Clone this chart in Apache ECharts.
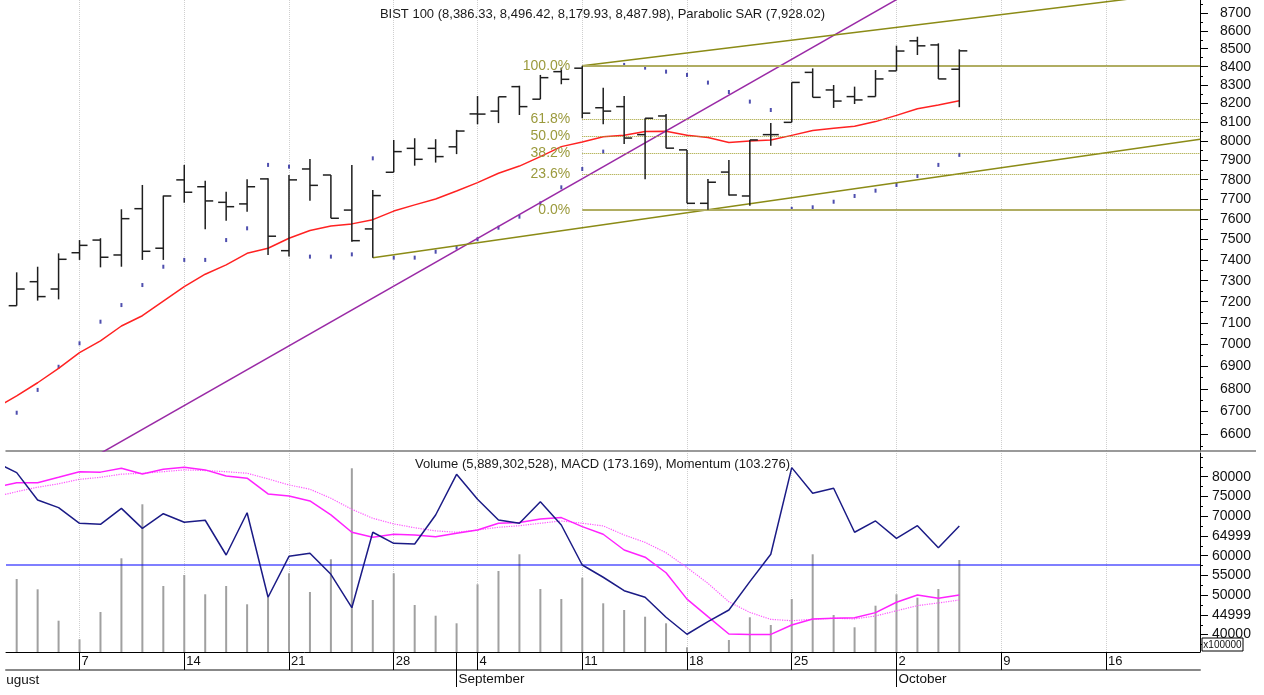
<!DOCTYPE html>
<html>
<head>
<meta charset="utf-8">
<title>BIST 100</title>
<script src="https://cdn.jsdelivr.net/npm/echarts@6/dist/echarts.min.js"></script>
<style>
  html, body { margin: 0; padding: 0; background: #fff; }
  #main { width: 1264px; height: 695px; }
</style>
</head>
<body>
<div id="main"></div>
<script>
// x = trading day index, 0 = 2 Aug 2023 (30 Aug holiday skipped), -1 = 1 Aug
var weekTicks = [3, 8, 13, 18, 22, 27, 32, 37, 42, 47, 52];
var weekLabels = ['7', '14', '21', '28', '4', '11', '18', '25', '2', '9', '16'];
var monthTicks = [21, 42];
var monthLabels = ['September', 'October'];

// BIST 100 daily bars
var open = [7181, 7295, 7260, 7435, 7497, 7424, 7653, 7457, 7799, 7764, 7685, 7677, 7804, 7445, 7855, 7824,
  7646, 7552, 7838, 7962, 7962, 7970, 8144, 8159, 8291, 8223, 8373, 8392, 8177, 8183, 8034, 8133, 7954,
  7680, 7839, 7717, 8034, 8099, 8369, 8273, 8237, 8237, 8377, 8544, 8521, 8386.33];
var high = [7340, 7367, 7432, 7497, 7506, 7650, 7773, 7719, 7876, 7795, 7738, 7802, 7807, 7824, 7907, 7824,
  7876, 7748, 8006, 8015, 8010, 8059, 8240, 8236, 8296, 8355, 8395, 8405, 8285, 8240, 8121, 8144, 7954,
  7804, 7902, 8006, 8096, 8314, 8391, 8300, 8291, 8382, 8517, 8567, 8530, 8496.42];
var low = [7181, 7205, 7211, 7400, 7364, 7367, 7400, 7400, 7683, 7550, 7593, 7638, 7424, 7416, 7693, 7605,
  7489, 7411, 7838, 7872, 7888, 7932, 8089, 8095, 8138, 8223, 8304, 8121, 8089, 7985, 7802, 7963, 7680,
  7647, 7719, 7668, 7975, 8099, 8233, 8176, 8197, 8237, 8377, 8465, 8333, 8179.93];
var close = [7260, 7224, 7403, 7471, 7413, 7603, 7442, 7717, 7736, 7692, 7663, 7764, 7516, 7799, 7771, 7605,
  7494, 7719, 7945, 7905, 7919, 8053, 8143, 8236, 8183, 8340, 8331, 8148, 8159, 8016, 8121, 7963, 7680,
  7787, 7722, 8006, 8034, 8314, 8233, 8213, 8219, 8333, 8487, 8516, 8333, 8487.98];
var sar = [6694, 6795, 6899, 7006, 7106, 7184, 7279, 7367, 7400, 7400, 7497, 7555, 7876, 7867, 7416, 7416,
  7427, 7910, 7411, 7411, 7440, 7460, 7501, 7558, 7613, 7680, 7761, 7855, 7945, 8410, 8395, 8373, 8355,
  8313, 8262, 8210, 8165, 7652, 7660, 7688, 7717, 7744, 7773, 7819, 7876, 7928.02];
// moving average, starts one day earlier (1 Aug)
var avg = [6715, 6768, 6827, 6892, 6963, 7017, 7086, 7134, 7203, 7271, 7331, 7376, 7432, 7457, 7506, 7544,
  7567, 7577, 7598, 7641, 7672, 7702, 7742, 7785, 7833, 7870, 7919, 7971, 7995, 8023, 8031, 8050, 8052,
  8031, 8019, 7993, 8001, 8006, 8030, 8056, 8068, 8078, 8103, 8136, 8172, 8192, 8215];

// volume in units of 100000
var lastVolume = 5889302528;
var volume = [54091, 51482, 43528, 38817, 45732, 59334, 73012, 52318, 55104, 50215, 52318, 47682, 49456,
  55535, 50798, 59081, 82131, 48772, 55535, 47505, 44795, 42870, 52748, 56117, 60347, 51558, 49025, 54420,
  47936, 46239, 44541, 42870, 36791, 35500, 38640, 44390, 42439, 49025, 60347, 44972, 41857, 47328, 50215,
  49354, 51558, lastVolume / 100000];
// MACD, signal and momentum, starting 1 Aug
var macd = [652, 672, 672, 696, 721, 719, 736, 711, 732, 741, 729, 702, 692, 622, 613, 591, 529, 452, 430,
  443, 440, 432, 447, 462, 492, 495, 511, 517, 477, 443, 373, 341, 272, 155, 77, 0, -2, -2, 40, 67, 70, 72,
  95, 141, 173, 159, 173.169];
var signal = [610, 632, 652, 667, 687, 696, 710, 714, 721, 729, 726, 721, 714, 689, 662, 643, 603, 554, 514,
  489, 472, 458, 452, 462, 474, 481, 492, 502, 492, 480, 440, 407, 361, 295, 225, 143, 96, 65, 59, 65, 70,
  67, 80, 103, 126, 138, 151];
var momentum = [108.63, 107.76, 105.46, 104.82, 103.50, 103.42, 104.76, 103.08, 104.31, 103.59, 103.76,
  100.84, 104.39, 97.29, 100.73, 100.98, 99.22, 96.41, 102.75, 101.82, 101.76, 104.20, 107.62, 105.52,
  103.78, 103.50, 105.32, 103.36, 100.00, 98.97, 97.84, 97.29, 95.61, 94.18, 95.24, 96.22, 98.60, 100.90,
  108.18, 106.03, 106.45, 102.75, 103.70, 102.24, 103.30, 101.45, 103.276];
var momentumBase = 100;

// drawn lines [x, value]
var channelTop = [[27, 8405], [56.5, 8832]];
var channelBottom = [[17, 7411], [56.5, 8010]];
var purpleTrend = [[0, 6317], [45, 8987]];
var fibValues = [8405, 8115, 8026, 7937, 7826, 7647];
var fibLabels = ['100.0%', '61.8%', '50.0%', '38.2%', '23.6%', '0.0%'];

// axis ticks
var priceTicks = [6600, 6700, 6800, 6900, 7000, 7100, 7200, 7300, 7400, 7500, 7600, 7700, 7800, 7900,
  8000, 8100, 8200, 8300, 8400, 8500, 8600, 8700];
var priceMinor = [6550, 6650, 6750, 6850, 6950, 7050, 7150, 7250, 7350, 7450, 7550, 7650, 7750, 7850,
  7950, 8050, 8150, 8250, 8350, 8450, 8550, 8650, 8750];
var volTicks = [40000, 45000, 50000, 55000, 60000, 65000, 70000, 75000, 80000];
var volLabels = ['40000', '44999', '50000', '55000', '60000', '64999', '70000', '75000', '80000'];
var volMinor = [37500, 42500, 47500, 52500, 57500, 62500, 67500, 72500, 77500, 82500, 85000];

var priceMin = 6528, priceMax = 8776;
var xMin = -0.51, xMax = 56.49;
var fibStart = 27, fibEnd = xMax;
var font = '"Liberation Sans", Arial, sans-serif';

function fmt(v, d) {
  return v.toLocaleString('en-US', { minimumFractionDigits: d, maximumFractionDigits: d });
}
var last = open.length - 1;
var topTitle = 'BIST 100 (' + fmt(open[last], 2) + ', ' + fmt(high[last], 2) + ', ' + fmt(low[last], 2) + ', ' +
  fmt(close[last], 2) + '), Parabolic SAR (' + fmt(sar[last], 2) + ')';
var bottomTitle = 'Volume (' + fmt(lastVolume, 0) + '), MACD (' + fmt(macd[macd.length - 1], 3) +
  '), Momentum (' + fmt(momentum[momentum.length - 1], 3) + ')';

function fromAug1(arr) {
  return arr.map(function (v, i) { return [i - 1, v]; });
}

function renderBar(params, api) {
  var x = api.value(0);
  var o = api.coord([x, api.value(1)]);
  var h = api.coord([x, api.value(2)]);
  var l = api.coord([x, api.value(3)]);
  var c = api.coord([x, api.value(4)]);
  var style = { stroke: '#1e1e1e', lineWidth: 1.5 };
  return {
    type: 'group',
    children: [
      { type: 'line', shape: { x1: h[0], y1: h[1], x2: l[0], y2: l[1] }, style: style },
      { type: 'line', shape: { x1: o[0] - 8, y1: o[1], x2: o[0], y2: o[1] }, style: style },
      { type: 'line', shape: { x1: c[0], y1: c[1], x2: c[0] + 8, y2: c[1] }, style: style }
    ]
  };
}

var fibLines = fibValues.map(function (v, k) {
  var solid = k === 0 || k === fibValues.length - 1;
  return [
    {
      coord: [fibStart, v], name: fibLabels[k],
      lineStyle: solid ? { color: '#b0ad62', width: 2, type: 'solid', opacity: 1 }
        : { color: '#a09e2a', width: 1, type: 'dotted', opacity: 1 }
    },
    { coord: [fibEnd, v] }
  ];
});

var gridLine = { show: true, lineStyle: { color: '#cfcfcf', type: 'dotted', width: 1 } };

var myChart = echarts.init(document.getElementById('main'));
myChart.setOption({
  animation: false,
  backgroundColor: '#fff',
  textStyle: { fontFamily: font },
  title: [
    { text: topTitle, left: 602.5, top: 8, textAlign: 'center', padding: 0,
      textStyle: { fontSize: 13, fontWeight: 'normal', color: '#1a1a1a', fontFamily: font } },
    { text: bottomTitle, left: 602.5, top: 458, textAlign: 'center', padding: 0,
      textStyle: { fontSize: 13, fontWeight: 'normal', color: '#1a1a1a', fontFamily: font } }
  ],
  grid: [
    { left: 6, right: 64, top: 0, height: 451 },
    { left: 6, right: 64, top: 453, height: 199 }
  ],
  xAxis: [
    { gridIndex: 0, type: 'value', min: xMin, max: xMax, position: 'bottom',
      axisLine: { show: true, onZero: false, lineStyle: { color: '#7a7a7a', width: 1.5 } },
      axisTick: { show: false, customValues: weekTicks },
      axisLabel: { show: false }, splitLine: gridLine },
    { gridIndex: 1, type: 'value', min: xMin, max: xMax, position: 'bottom',
      axisLine: { show: true, onZero: false, lineStyle: { color: '#000', width: 1 } },
      axisTick: { show: true, customValues: weekTicks, length: 18, lineStyle: { color: '#000' } },
      axisLabel: { show: true, customValues: weekTicks, align: 'left', margin: 3, padding: [0, 0, 0, 2],
        fontSize: 13, color: '#111', fontFamily: font,
        formatter: function (v) { var k = weekTicks.indexOf(v); return k < 0 ? '' : weekLabels[k]; } },
      splitLine: gridLine },
    { gridIndex: 1, type: 'value', min: xMin, max: xMax, position: 'bottom',
      axisLine: { show: false, onZero: false },
      axisTick: { show: true, customValues: monthTicks, length: 35, lineStyle: { color: '#000' } },
      axisLabel: { show: true, customValues: monthTicks, align: 'left', margin: 20, padding: [0, 0, 0, 2],
        fontSize: 13.5, color: '#111', fontFamily: font,
        formatter: function (v) { var k = monthTicks.indexOf(v); return k < 0 ? '' : monthLabels[k]; } },
      splitLine: { show: false } },
    { gridIndex: 1, type: 'value', min: xMin, max: xMax, position: 'bottom', offset: 18,
      axisLine: { show: true, onZero: false, lineStyle: { color: '#888', width: 2 } },
      axisTick: { show: false }, axisLabel: { show: false }, splitLine: { show: false } }
  ],
  yAxis: [
    { gridIndex: 0, type: 'log', logBase: 10, min: priceMin, max: priceMax, position: 'right',
      axisLine: { show: true, onZero: false, lineStyle: { color: '#000', width: 1 } },
      axisTick: { show: false }, axisLabel: { show: false }, splitLine: { show: false } },
    { gridIndex: 0, type: 'value', min: Math.log(priceMin), max: Math.log(priceMax), position: 'right',
      axisLine: { show: false, onZero: false },
      axisTick: { show: true, length: 8, customValues: priceTicks.map(Math.log), lineStyle: { color: '#000' } },
      axisLabel: { show: true, customValues: priceTicks.map(Math.log), margin: 20, fontSize: 14, color: '#111',
        fontFamily: font, formatter: function (v) { return String(Math.round(Math.exp(v))); } },
      splitLine: { show: false } },
    { gridIndex: 0, type: 'value', min: Math.log(priceMin), max: Math.log(priceMax), position: 'right',
      axisLine: { show: false, onZero: false },
      axisTick: { show: true, length: 3, customValues: priceMinor.map(Math.log), lineStyle: { color: '#000' } },
      axisLabel: { show: false }, splitLine: { show: false } },
    { gridIndex: 1, type: 'value', min: 35600, max: 86000, position: 'right',
      axisLine: { show: true, onZero: false, lineStyle: { color: '#000', width: 1 } },
      axisTick: { show: true, length: 8, customValues: volTicks, lineStyle: { color: '#000' } },
      axisLabel: { show: true, customValues: volTicks, margin: 12, fontSize: 14, color: '#111', fontFamily: font,
        formatter: function (v) { var k = volTicks.indexOf(v); return k < 0 ? String(v) : volLabels[k]; } },
      splitLine: { show: false } },
    { gridIndex: 1, type: 'value', min: 35600, max: 86000, position: 'right',
      axisLine: { show: false, onZero: false },
      axisTick: { show: true, length: 3, customValues: volMinor, lineStyle: { color: '#000' } },
      axisLabel: { show: false }, splitLine: { show: false } },
    { gridIndex: 1, type: 'value', min: -80, max: 804, show: false, axisLine: { onZero: false } },
    { gridIndex: 1, type: 'value', min: 92.69, max: 109.41, show: false, axisLine: { onZero: false } }
  ],
  series: [
    {
      name: 'Volume', type: 'bar', xAxisIndex: 1, yAxisIndex: 3, barWidth: 2,
      itemStyle: { color: '#a0a0a0' },
      data: volume.map(function (v, i) { return [i, v]; })
    },
    {
      name: 'Momentum base', type: 'line', xAxisIndex: 1, yAxisIndex: 6, showSymbol: false,
      itemStyle: { color: '#0000ff' },
      lineStyle: { color: '#0000ff', width: 1.2 },
      data: [[xMin, momentumBase], [xMax, momentumBase]]
    },
    {
      name: 'Signal', type: 'line', xAxisIndex: 1, yAxisIndex: 5, showSymbol: false,
      lineStyle: { color: '#ff55ff', width: 1.2, type: 'dotted' },
      data: fromAug1(signal)
    },
    {
      name: 'MACD', type: 'line', xAxisIndex: 1, yAxisIndex: 5, showSymbol: false,
      lineStyle: { color: '#ff22ff', width: 1.5 },
      data: fromAug1(macd)
    },
    {
      name: 'Momentum', type: 'line', xAxisIndex: 1, yAxisIndex: 6, showSymbol: false,
      itemStyle: { color: '#1b1b86' },
      lineStyle: { color: '#1b1b86', width: 1.5 },
      data: fromAug1(momentum)
    },
    {
      name: 'Average', type: 'line', xAxisIndex: 0, yAxisIndex: 0, showSymbol: false,
      lineStyle: { color: '#f22', width: 1.5 },
      data: fromAug1(avg)
    },
    {
      name: 'Purple trend', type: 'line', xAxisIndex: 0, yAxisIndex: 0, showSymbol: false,
      lineStyle: { color: '#9a2aa6', width: 1.5 }, data: purpleTrend
    },
    {
      name: 'Channel top', type: 'line', xAxisIndex: 0, yAxisIndex: 0, showSymbol: false,
      lineStyle: { color: '#8b8b16', width: 1.5 }, data: channelTop
    },
    {
      name: 'Channel bottom', type: 'line', xAxisIndex: 0, yAxisIndex: 0, showSymbol: false,
      lineStyle: { color: '#8b8b16', width: 1.5 }, data: channelBottom
    },
    {
      name: 'Fibonacci', type: 'line', xAxisIndex: 0, yAxisIndex: 0, showSymbol: false,
      itemStyle: { color: '#b0ad62' },
      lineStyle: { width: 0 },
      data: [[fibStart, fibValues[0]], [fibStart + 6, fibValues[fibValues.length - 1]]],
      markLine: {
        silent: true, symbol: ['none', 'none'],
        label: { show: true, position: 'start', formatter: '{b}', distance: 12, color: '#9b9a3d',
          fontSize: 14, fontFamily: font },
        data: fibLines
      }
    },
    {
      name: 'Parabolic SAR', type: 'scatter', xAxisIndex: 0, yAxisIndex: 0,
      symbol: 'rect', symbolSize: [2, 4], itemStyle: { color: '#22229a' },
      data: sar.map(function (v, i) { return [i, v]; })
    },
    {
      name: 'BIST 100', type: 'custom', xAxisIndex: 0, yAxisIndex: 0, renderItem: renderBar,
      encode: { x: 0, y: [1, 2, 3, 4] }, z: 5,
      data: open.map(function (o, i) { return [i, o, high[i], low[i], close[i]]; })
    }
  ],
  graphic: [
    { type: 'line', z: 100, shape: { x1: 1200, y1: 451, x2: 1256, y2: 451 },
      style: { stroke: '#7a7a7a', lineWidth: 1.5 } },
    { type: 'text', z: 100, x: -2.7, y: 680,
      style: { text: 'August', fontSize: 13.5, fontFamily: font, fill: '#111', textVerticalAlign: 'middle' } },
    { type: 'rect', z: 101, shape: { x: 0, y: 672, width: 6, height: 22 }, style: { fill: '#fff' } },
    { type: 'rect', z: 100, shape: { x: 1202, y: 638, width: 41, height: 13 },
      style: { fill: '#fff', stroke: '#000', lineWidth: 1 } },
    { type: 'text', z: 101, x: 1222.5, y: 645,
      style: { text: 'x100000', fontSize: 10, fontFamily: font, fill: '#111', textAlign: 'center', textVerticalAlign: 'middle' } }
  ]
});
</script>
</body>
</html>
